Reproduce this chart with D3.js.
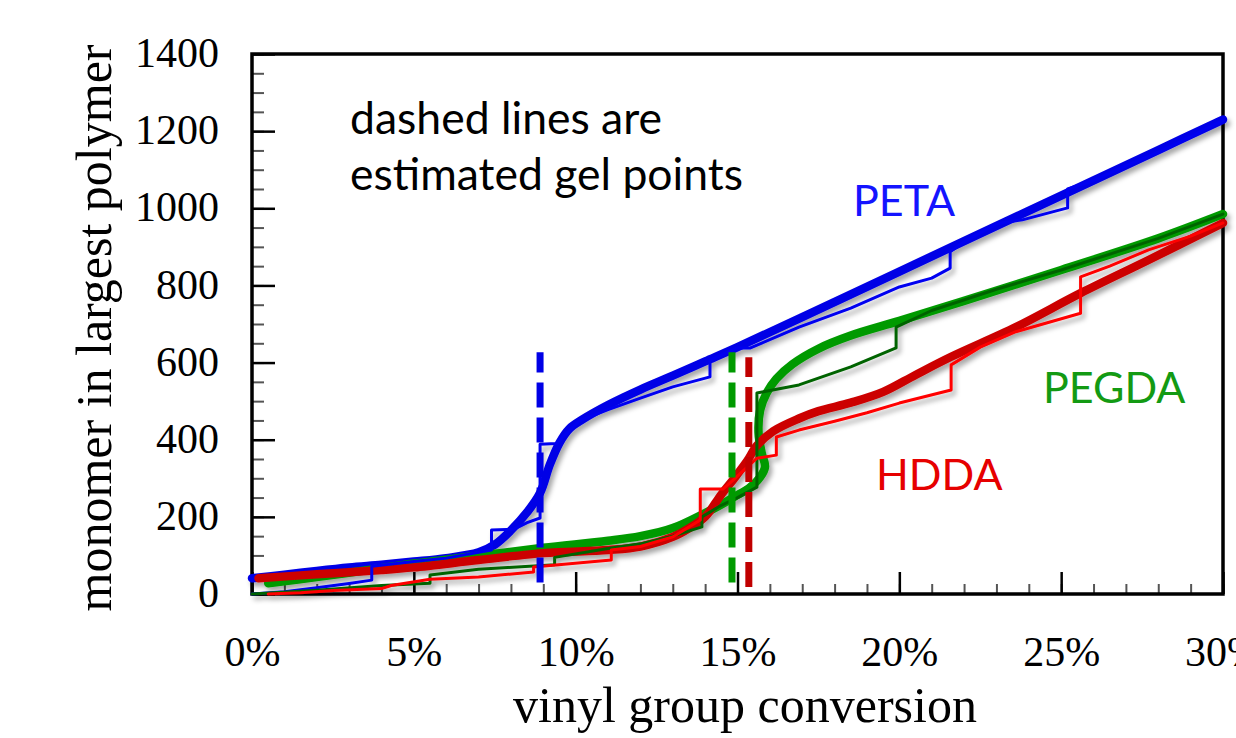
<!DOCTYPE html>
<html>
<head>
<meta charset="utf-8">
<script src="https://cdn.jsdelivr.net/npm/d3@7"></script>
<style>
  html, body { margin: 0; padding: 0; background: #fff; }
  svg { display: block; }
  .tick text { font-family: "Liberation Serif", "Times New Roman", serif; }
</style>
</head>
<body>
<div id="chart"></div>
<script>
var w = 1236, h = 738;

// x = vinyl group conversion (%), y = monomer in largest polymer
var xMajorTicks = [0, 5, 10, 15, 20, 25, 30];
var yMajorTicks = [0, 200, 400, 600, 800, 1000, 1200, 1400];

var petaSmooth = [[0,41],[1,50],[2,60],[3,69],[4,76],[5,84],[6,93],[7,108],[7.5,128],[8,165],[8.5,212],[8.9,262],[9.2,335],[9.5,392],[9.8,428],[10.2,452],[11,490],[12,530],[13,566],[14,603],[15,640],[17,718],[20,836],[22,915],[25,1033],[28,1151],[30,1230]];
var petaStep = [[0,0],[1,6],[2,16],[3,27],[3.7,36],[3.7,72],[5,84],[6,93],[7.4,114],[7.4,166],[8.1,168],[8.5,185],[8.9,197],[8.9,388],[9.4,390],[10.1,448],[11,478],[12,508],[13,537],[14.15,563],[14.15,606],[15,638],[15.4,638],[16.9,692],[18.5,741],[20,796],[21,819],[21.57,845],[21.57,887],[22,913],[23,960],[23.8,970],[25.2,1001],[25.2,1050],[26,1072],[27,1110],[28,1145],[29,1185],[30,1228]];

var pegdaSmooth = [[0.5,28],[2,44],[4,67],[5,79],[7,99],[9,120],[11,138],[12,150],[13,171],[14,210],[14.5,232],[14.9,252],[15.35,274],[15.7,303],[15.85,330],[15.75,365],[15.65,417],[15.7,477],[15.9,521],[16.2,558],[16.7,596],[17.5,636],[18.5,670],[20,708],[22,760],[25,840],[28,922],[30,985]];
var pegdaStep = [[0,0],[2,10],[4,22],[5.5,28],[5.5,49],[7,64],[9.35,76],[9.35,95],[11,118],[12,130],[13,150],[13.9,174],[13.9,200],[14.5,230],[15,250],[15.6,277],[15.6,521],[16.9,542],[18.5,589],[19.9,638],[19.9,692],[21,735],[23,790],[25,840],[28,922],[30,985]];

var hddaSmooth = [[0.2,41],[2,51],[4,62],[5,69],[7,88],[9,106],[11,114],[12,123],[13,148],[13.5,170],[14,200],[14.5,258],[14.9,300],[15.3,345],[15.6,385],[16.1,422],[16.9,455],[17.5,474],[18.5,496],[19.5,524],[20.5,568],[21.6,615],[23.6,692],[25.6,780],[27.7,866],[30,962]];
var hddaStep = [[0.5,0],[1.5,3],[2.5,9],[4,14],[4.3,22],[5.5,38],[7,44],[8.7,57],[8.7,70],[11.1,88],[11.1,114],[12,123],[13,148],[13.85,192],[13.85,272],[14.55,272],[14.9,298],[15.6,352],[16.2,360],[16.2,407],[16.9,425],[18,448],[19,470],[20,495],[21.6,529],[21.6,594],[22.5,640],[23.6,680],[25.6,728],[25.6,822],[26.5,850],[27.7,892],[29,928],[30,962]];

// estimated gel points
var gelBlue = [[8.9,30],[8.9,627]];
var gelGreen = [[14.83,30],[14.83,627]];
var gelRed = [[15.35,18],[15.35,614]];

var plotLeft = 252, plotRight = 1223, plotTop = 54, plotBottom = 594;

var x = d3.scaleLinear().domain([0, 30]).range([plotLeft, plotRight]);
var y = d3.scaleLinear().domain([0, 1400]).range([plotBottom, plotTop]);

var svg = d3.select("#chart")
  .append("svg")
    .attr("width", w)
    .attr("height", h);

var defs = svg.append("defs");
defs.append("filter")
    .attr("id", "shadow")
    .attr("x", "-5%").attr("y", "-5%")
    .attr("width", "110%").attr("height", "110%")
  .append("feDropShadow")
    .attr("dx", 3).attr("dy", 4)
    .attr("stdDeviation", 2.5)
    .attr("flood-color", "#000")
    .attr("flood-opacity", 0.35);

// minor ticks
svg.append("g")
    .attr("transform", "translate(0," + plotBottom + ")")
    .call(d3.axisBottom(x).tickValues(d3.range(0, 31, 1)).tickSize(-10).tickFormat(""))
    .call(function(g) { g.select(".domain").remove(); g.selectAll("line").attr("stroke", "#555").attr("stroke-width", 2); });
svg.append("g")
    .attr("transform", "translate(" + plotLeft + ",0)")
    .call(d3.axisLeft(y).tickValues(d3.range(0, 1401, 50)).tickSize(-12).tickFormat(""))
    .call(function(g) { g.select(".domain").remove(); g.selectAll("line").attr("stroke", "#555").attr("stroke-width", 2); });

// major ticks + labels
svg.append("g")
    .attr("transform", "translate(0," + plotBottom + ")")
    .call(d3.axisBottom(x).tickValues(xMajorTicks).tickSize(-22).tickPadding(42).tickFormat(function(d) { return d + "%"; }))
    .call(function(g) {
      g.select(".domain").remove();
      g.selectAll("line").attr("stroke", "#000").attr("stroke-width", 2.5);
      g.selectAll("text").attr("font-size", 42).attr("fill", "#000");
    });
svg.append("g")
    .attr("transform", "translate(" + plotLeft + ",0)")
    .call(d3.axisLeft(y).tickValues(yMajorTicks).tickSize(-23).tickPadding(33).tickFormat(d3.format("d")))
    .call(function(g) {
      g.select(".domain").remove();
      g.selectAll("line").attr("stroke", "#000").attr("stroke-width", 2.5);
      g.selectAll("text").attr("font-size", 42).attr("fill", "#000").attr("dy", "0.3em");
    });

svg.append("rect")
    .attr("x", plotLeft).attr("y", plotTop)
    .attr("width", plotRight - plotLeft).attr("height", plotBottom - plotTop)
    .attr("fill", "none")
    .attr("stroke", "#000")
    .attr("stroke-width", 3.5);

var smooth = d3.line()
    .x(function(d) { return x(d[0]); })
    .y(function(d) { return y(d[1]); })
    .curve(d3.curveCatmullRom.alpha(0.5));
var step = d3.line()
    .x(function(d) { return x(d[0]); })
    .y(function(d) { return y(d[1]); });

var lines = svg.append("g").attr("filter", "url(#shadow)")
    .attr("fill", "none")
    .attr("stroke-linecap", "round")
    .attr("stroke-linejoin", "round");

lines.append("path").attr("d", smooth(petaSmooth)).attr("stroke", "#0000e6").attr("stroke-width", 8.5);
lines.append("path").attr("d", smooth(pegdaSmooth)).attr("stroke", "#009a00").attr("stroke-width", 8.5);
lines.append("path").attr("d", smooth(hddaSmooth)).attr("stroke", "#cc0000").attr("stroke-width", 8.5);

lines.append("path").attr("d", step(petaStep)).attr("stroke", "#0000f0").attr("stroke-width", 3);
lines.append("path").attr("d", step(pegdaStep)).attr("stroke", "#006400").attr("stroke-width", 3);
lines.append("path").attr("d", step(hddaStep)).attr("stroke", "#ff0000").attr("stroke-width", 3);

var dashes = svg.append("g").attr("fill", "none").attr("stroke-width", 7).attr("stroke-dasharray", "25,10");
dashes.append("path").attr("d", step(gelBlue)).attr("stroke", "#0000e6");
dashes.append("path").attr("d", step(gelGreen)).attr("stroke", "#009a00");
dashes.append("path").attr("d", step(gelRed)).attr("stroke", "#c00000");

// titles
svg.append("text")
    .attr("x", 745).attr("y", 722)
    .attr("text-anchor", "middle")
    .attr("font-family", "Liberation Serif, Times New Roman, serif")
    .attr("font-size", 50)
    .text("vinyl group conversion");
svg.append("text")
    .attr("transform", "translate(111,328) rotate(-90)")
    .attr("text-anchor", "middle")
    .attr("font-family", "Liberation Serif, Times New Roman, serif")
    .attr("font-size", 50)
    .text("monomer in largest polymer");

var note = svg.append("g")
    .attr("font-family", "Lato, Open Sans, sans-serif")
    .attr("font-size", 44.5);
note.append("text").attr("x", 350).attr("y", 134).attr("fill", "#000").text("dashed lines are");
note.append("text").attr("x", 350).attr("y", 190).attr("fill", "#000").text("estimated gel points");
var labels = svg.append("g")
    .attr("font-family", "Lato, Open Sans, sans-serif")
    .attr("font-size", 43);
labels.append("text").attr("x", 853).attr("y", 216).attr("fill", "#1414ff").text("PETA");
labels.append("text").attr("x", 1043).attr("y", 403).attr("fill", "#139a13").text("PEGDA");
labels.append("text").attr("x", 876).attr("y", 490).attr("fill", "#e60000").text("HDDA");
</script>
</body>
</html>
